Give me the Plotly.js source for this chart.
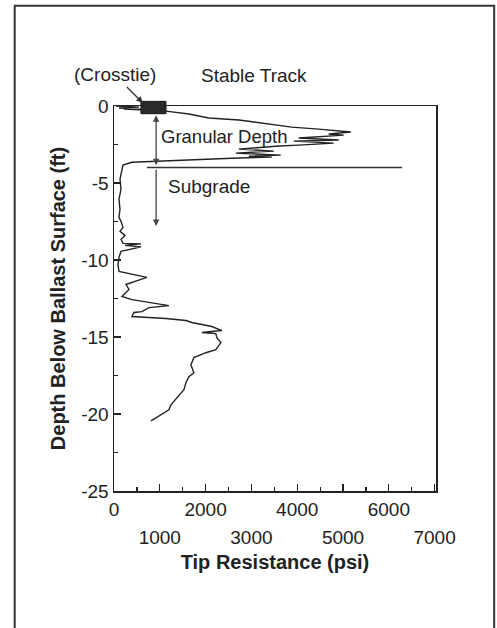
<!DOCTYPE html>
<html><head><meta charset="utf-8">
<script src="https://cdn.plot.ly/plotly-3.0.1.min.js"></script>
<style>html,body{margin:0;padding:0;background:#fff;}#chart{width:497px;height:628px;}</style>
</head><body><div id="chart"></div>
<script>
// Cone penetration profile
const tipResistance = [44,545,109,610,218,763,1134,1635,2071,2725,3270,3880,4469,5169,4687,5014,4033,4905,3924,4796,4033,3597,2725,3488,2660,3641,2943,3444,2572,828,392,196,
  174,131,153,109,131,109,153,196,131,240,153,196,589,240,589,153,109,87,109,436,720,589,262,327,174,392,828,1199,763,610,436,392,1134,1570,1700,2136,2354,1918,2224,2245,2333,2224,2006,1744,1679,1744,1635,1570,1526,1373,1243,1199,1025,807];
const depth = [0,-0.07,-0.13,-0.20,-0.20,-0.26,-0.33,-0.52,-0.78,-0.91,-1.11,-1.37,-1.50,-1.69,-1.82,-1.89,-2.08,-2.21,-2.28,-2.41,-2.54,-2.60,-2.80,-2.93,-3.06,-3.19,-3.26,-3.32,-3.39,-3.58,-3.65,-3.84,
  -4.10,-4.75,-5.40,-6.05,-6.71,-7.23,-7.49,-7.88,-8.14,-8.40,-8.66,-8.92,-8.95,-9.05,-9.15,-9.44,-9.83,-10.29,-10.74,-10.94,-11.13,-11.26,-11.59,-11.91,-12.37,-12.57,-12.76,-12.96,-13.09,-13.35,-13.41,-13.67,-13.80,-13.93,-14.06,-14.32,-14.58,-14.71,-14.78,-15.04,-15.36,-15.82,-16.02,-16.34,-16.80,-17.32,-17.58,-17.97,-18.42,-18.95,-19.40,-19.73,-20.05,-20.44];

const xTickVals = [0,1000,2000,3000,4000,5000,6000,7000];
const xTickTextUpper = ['0','','2000','','4000','','6000',''];
const xTickValsLower = [1000,3000,5000,7000];
const xTickTextLower = ['1000','3000','5000','7000'];
const xMinorVals = [500,1500,2500,3500,4500,5500,6500];
const yTickVals = [0,-5,-10,-15,-20,-25];
const yTickText = ['0','-5','-10','-15','-20','-25'];

// annotation positions (data units)
const crosstieX = [589,1134];
const interfaceDepth = -4;
const interfaceX = [720,6290];
const arrowX = 920;
const granularArrow = [-0.5,-3.85];
const subgradeArrow = [-4.05,-7.8];

const FONT = 'Liberation Sans, Arial, sans-serif';
const INK = '#222';
const XR = [0,7030];

const traces = [
  {x: tipResistance, y: depth, type:'scatter', mode:'lines', line:{color:INK, width:1.4}, hoverinfo:'skip', showlegend:false},
  {x: [], y: [], xaxis:'x2', yaxis:'y', type:'scatter', mode:'lines', showlegend:false, hoverinfo:'skip'}
];

const layout = {
  width:497, height:628,
  margin:{l:114, r:61, t:106, b:137},
  paper_bgcolor:'#fff', plot_bgcolor:'#fff',
  font:{family:FONT, color:INK, size:19},
  showlegend:false,
  xaxis:{
    range:XR, tickmode:'array', tickvals:xTickVals, ticktext:xTickTextUpper,
    ticks:'inside', ticklen:7, tickwidth:1.3, tickcolor:INK,
    minor:{tickmode:'array', tickvals:xMinorVals, ticks:'inside', ticklen:4, tickwidth:1.2, tickcolor:INK, showgrid:false},
    showline:true, linecolor:INK, linewidth:1.5, mirror:true,
    showgrid:false, zeroline:false, ticklabelstandoff:1,
    tickfont:{size:19, family:FONT, color:INK},
    title:{text:'<b>Tip Resistance (psi)</b>', font:{size:20, family:FONT, color:INK}, standoff:35}
  },
  xaxis2:{
    range:XR, overlaying:'x', anchor:'y', side:'bottom',
    tickmode:'array', tickvals:xTickValsLower, ticktext:xTickTextLower,
    ticks:'', showline:false, showgrid:false, zeroline:false,
    ticklabelstandoff:33,
    tickfont:{size:19, family:FONT, color:INK}
  },
  yaxis:{
    range:[-25,0], tickmode:'array', tickvals:yTickVals, ticktext:yTickText,
    ticks:'inside', ticklen:7, tickwidth:1.3, tickcolor:INK,
    minor:{dtick:2.5, ticks:'inside', ticklen:4, tickwidth:1.2, tickcolor:INK, showgrid:false},
    showline:true, linecolor:INK, linewidth:1.5, mirror:true,
    showgrid:false, zeroline:false,
    tickfont:{size:19, family:FONT, color:INK},
    title:{text:'<b>Depth Below Ballast Surface (ft)</b>', font:{size:20, family:FONT, color:INK}, standoff:9.5}
  },
  shapes:[
    {type:'rect', xref:'paper', yref:'paper', x0:-0.3084, x1:1.1807, y0:-0.40, y1:1.2604, line:{color:'#333', width:2}, fillcolor:'rgba(0,0,0,0)'},
    {type:'rect', xref:'x', yref:'paper', x0:crosstieX[0], x1:crosstieX[1], y0:0.98, y1:1.012, line:{color:'#111', width:1}, fillcolor:'#2a2a2a', layer:'above'},
    {type:'line', xref:'x', yref:'y', x0:interfaceX[0], x1:interfaceX[1], y0:interfaceDepth, y1:interfaceDepth, line:{color:'#333', width:1.5}}
  ],
  annotations:[
    {xref:'x', yref:'paper', x:630, y:1.008, text:'(Crosstie)', showarrow:true, ax:-28, ay:-28, arrowhead:2, arrowsize:1, arrowwidth:1.3, arrowcolor:'#333', font:{size:19}},
    {xref:'x', yref:'paper', x:3052, y:1.0805, yanchor:'middle', text:'Stable Track', showarrow:false, font:{size:19}},
    {xref:'x', yref:'y', x:981, y:-1.95, xanchor:'left', text:'Granular Depth', showarrow:false, font:{size:18.5}},
    {xref:'x', yref:'y', x:1134, y:-5.21, xanchor:'left', text:'Subgrade', showarrow:false, font:{size:19}},
    {xref:'x', yref:'y', axref:'x', ayref:'y', x:arrowX, y:granularArrow[1], ax:arrowX, ay:granularArrow[0], text:'', showarrow:true, arrowside:'end+start', arrowhead:2, arrowsize:1, arrowwidth:1.3, arrowcolor:'#444'},
    {xref:'x', yref:'y', axref:'x', ayref:'y', x:arrowX, y:subgradeArrow[1], ax:arrowX, ay:subgradeArrow[0], text:'', showarrow:true, arrowhead:2, arrowsize:1, arrowwidth:1.3, arrowcolor:'#444'}
  ]
};

Plotly.newPlot('chart', traces, layout, {staticPlot:true, displayModeBar:false});
</script>
</body></html>
